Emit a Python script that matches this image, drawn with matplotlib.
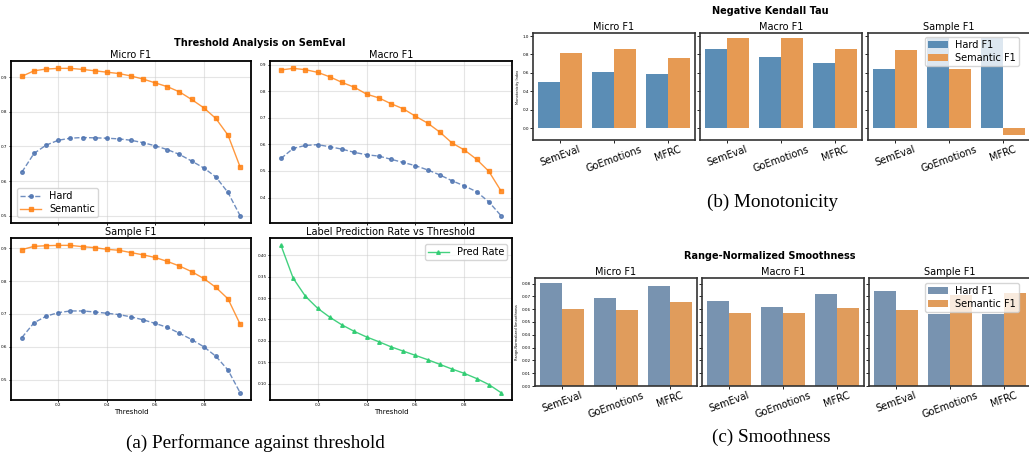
import matplotlib
matplotlib.use("Agg")
import matplotlib.pyplot as plt
import numpy as np

W, H = 1029, 463
fig = plt.figure(figsize=(W / 100, H / 100), dpi=100)

# ---------------- data ----------------
thresholds = [0.05, 0.10, 0.15, 0.20, 0.25, 0.30, 0.35, 0.40, 0.45, 0.50,
              0.55, 0.60, 0.65, 0.70, 0.75, 0.80, 0.85, 0.90, 0.95]

micro_sem = [0.903, 0.919, 0.924, 0.926, 0.926, 0.923, 0.919, 0.915, 0.911, 0.904,
             0.895, 0.884, 0.873, 0.858, 0.836, 0.812, 0.781, 0.733, 0.641]
micro_hard = [0.626, 0.680, 0.704, 0.718, 0.724, 0.726, 0.725, 0.724, 0.722, 0.718,
              0.711, 0.702, 0.691, 0.677, 0.658, 0.638, 0.612, 0.567, 0.500]
macro_sem = [0.880, 0.886, 0.881, 0.871, 0.854, 0.833, 0.815, 0.789, 0.775, 0.753,
             0.734, 0.706, 0.680, 0.646, 0.605, 0.579, 0.544, 0.499, 0.425]
macro_hard = [0.547, 0.585, 0.596, 0.599, 0.591, 0.582, 0.570, 0.561, 0.556, 0.544,
              0.532, 0.520, 0.504, 0.485, 0.463, 0.444, 0.422, 0.384, 0.332]
sample_sem = [0.896, 0.906, 0.908, 0.909, 0.909, 0.905, 0.902, 0.897, 0.894, 0.887,
              0.880, 0.872, 0.860, 0.846, 0.829, 0.808, 0.781, 0.746, 0.669]
sample_hard = [0.628, 0.673, 0.693, 0.704, 0.709, 0.709, 0.706, 0.702, 0.698, 0.691,
               0.682, 0.671, 0.659, 0.641, 0.622, 0.600, 0.571, 0.529, 0.460]
pred_rate = [0.423, 0.346, 0.304, 0.276, 0.255, 0.237, 0.222, 0.209, 0.198, 0.186,
             0.176, 0.166, 0.156, 0.145, 0.134, 0.124, 0.112, 0.098, 0.079]

datasets = ["SemEval", "GoEmotions", "MFRC"]
metrics = ["Micro F1", "Macro F1", "Sample F1"]

mono_hard = {"Micro F1": [0.498, 0.607, 0.585],
             "Macro F1": [0.858, 0.771, 0.705],
             "Sample F1": [0.640, 0.980, 0.980]}
mono_sem = {"Micro F1": [0.815, 0.858, 0.760],
            "Macro F1": [0.978, 0.978, 0.858],
            "Sample F1": [0.847, 0.647, -0.076]}

smooth_hard = {"Micro F1": [0.0803, 0.0685, 0.0779],
               "Macro F1": [0.0661, 0.0614, 0.0716],
               "Sample F1": [0.0740, 0.0559, 0.0562]}
smooth_sem = {"Micro F1": [0.0599, 0.0591, 0.0654],
              "Macro F1": [0.0567, 0.0567, 0.0607],
              "Sample F1": [0.0591, 0.0707, 0.0725]}

# ---------------- helpers ----------------
def px_axes(l, t, r, b):
    return fig.add_axes([l / W, 1 - b / H, (r - l) / W, (b - t) / H])

def fx(x):
    return x / W

def fy(y):
    return 1 - y / H

HARD_C = "#4c72b0"
SEM_C = "#ff7f0e"

def style_line_ax(ax, title):
    ax.set_title(title, fontsize=7, pad=2)
    ax.grid(True, color="#cccccc", alpha=0.5, lw=0.8)
    for s in ax.spines.values():
        s.set_linewidth(1.3)
        s.set_color("black")
    ax.tick_params(labelsize=3, length=1.5, width=0.6, pad=1)
    ax.set_xticks([0.2, 0.4, 0.6, 0.8])

def plot_pair(ax, hard, sem):
    ax.plot(thresholds, hard, "--o", color=HARD_C, alpha=0.8, lw=1, ms=2.6, label="Hard")
    ax.plot(thresholds, sem, "-s", color=SEM_C, alpha=0.8, lw=1, ms=2.6, label="Semantic")

# ---------------- (a) threshold panel ----------------
ax1 = px_axes(11, 61, 251, 223)
plot_pair(ax1, micro_hard, micro_sem)
style_line_ax(ax1, "Micro F1")
ax1.set_yticks([0.5, 0.6, 0.7, 0.8, 0.9])
ax1.tick_params(labelbottom=False)
ax1.legend(loc="lower left", bbox_to_anchor=(fx(17), fy(217)), bbox_transform=fig.transFigure,
           borderaxespad=0, fontsize=7, handlelength=2.2, labelspacing=0.3, borderpad=0.3)

ax2 = px_axes(270, 61, 512, 223)
plot_pair(ax2, macro_hard, macro_sem)
style_line_ax(ax2, "Macro F1")
ax2.set_yticks([0.4, 0.5, 0.6, 0.7, 0.8, 0.9])
ax2.tick_params(labelbottom=False)

ax3 = px_axes(11, 238, 251, 400)
plot_pair(ax3, sample_hard, sample_sem)
style_line_ax(ax3, "Sample F1")
ax3.set_yticks([0.5, 0.6, 0.7, 0.8, 0.9])
ax3.set_xlabel("Threshold", fontsize=5, labelpad=1)

ax4 = px_axes(270, 238, 512, 400)
ax4.plot(thresholds, pred_rate, "-^", color="#2ecc71", alpha=0.9, lw=1, ms=2.6, label="Pred Rate")
style_line_ax(ax4, "Label Prediction Rate vs Threshold")
ax4.set_yticks([0.10, 0.15, 0.20, 0.25, 0.30, 0.35, 0.40])
ax4.set_xlabel("Threshold", fontsize=5, labelpad=1)
ax4.legend(loc="upper right", bbox_to_anchor=(fx(507), fy(244)), bbox_transform=fig.transFigure,
           borderaxespad=0, fontsize=7, handlelength=2.2, borderpad=0.3)

fig.text(fx(260), fy(43), "Threshold Analysis on SemEval", ha="center", va="center",
         fontsize=7, fontweight="bold")

# ---------------- bar panels ----------------
def bar_panel(lefts, t, b, right_w, hard, sem, hard_c, sem_c, ylabel, yticks, leg_xy):
    axes = []
    x = np.arange(len(datasets))
    for i, (m, l) in enumerate(zip(metrics, lefts)):
        ax = px_axes(l, t, l + right_w, b)
        if i > 0:
            ax.sharey(axes[0])
        ax.bar(x - 0.2, hard[m], width=0.4, color=hard_c, label="Hard F1")
        ax.bar(x + 0.2, sem[m], width=0.4, color=sem_c, label="Semantic F1")
        ax.set_xlim(-0.5, 2.5)
        ax.set_xticks(x)
        ax.set_xticklabels(datasets, rotation=20, fontsize=7)
        ax.set_title(m, fontsize=7, pad=2)
        ax.tick_params(axis="y", labelsize=3, length=2, width=0.6, pad=1)
        ax.tick_params(axis="x", length=2, width=0.6, pad=1)
        for s in ax.spines.values():
            s.set_linewidth(1.2)
            s.set_color("#333333")
        if i == 0:
            ax.set_ylabel(ylabel, fontsize=2.5, labelpad=2)
            ax.set_yticks(yticks)
        else:
            ax.tick_params(labelleft=False)
        axes.append(ax)
    axes[-1].legend(loc="upper right", bbox_to_anchor=(fx(leg_xy[0]), fy(leg_xy[1])),
                    bbox_transform=fig.transFigure, borderaxespad=0, fontsize=7,
                    borderpad=0.3, labelspacing=0.3)
    return axes

bar_panel([533, 700, 868], 33, 140, 162, mono_hard, mono_sem, "#5b8db5", "#e69a53",
          "Monotonicity Index", [0.0, 0.2, 0.4, 0.6, 0.8, 1.0], (1019, 37))
fig.text(fx(770), fy(11), "Negative Kendall Tau", ha="center", va="center",
         fontsize=7, fontweight="bold")

bar_panel([535, 702, 869], 278, 386, 162, smooth_hard, smooth_sem, "#7893b0", "#e09c5c",
          "Range-Normalized Smoothness",
          [0.0, 0.01, 0.02, 0.03, 0.04, 0.05, 0.06, 0.07, 0.08], (1019, 283))
fig.text(fx(770), fy(256), "Range-Normalized Smoothness", ha="center", va="center",
         fontsize=7, fontweight="bold")

# ---------------- captions ----------------
cap_font = dict(fontsize=13.8, family=["Liberation Serif", "DejaVu Serif"], ha="center", va="center")
fig.text(fx(255), fy(443), "(a) Performance against threshold", **cap_font)
fig.text(fx(773), fy(202), "(b) Monotonicity", **cap_font)
fig.text(fx(771), fy(437), "(c) Smoothness", **cap_font)

fig.savefig("out.png", dpi=100)
